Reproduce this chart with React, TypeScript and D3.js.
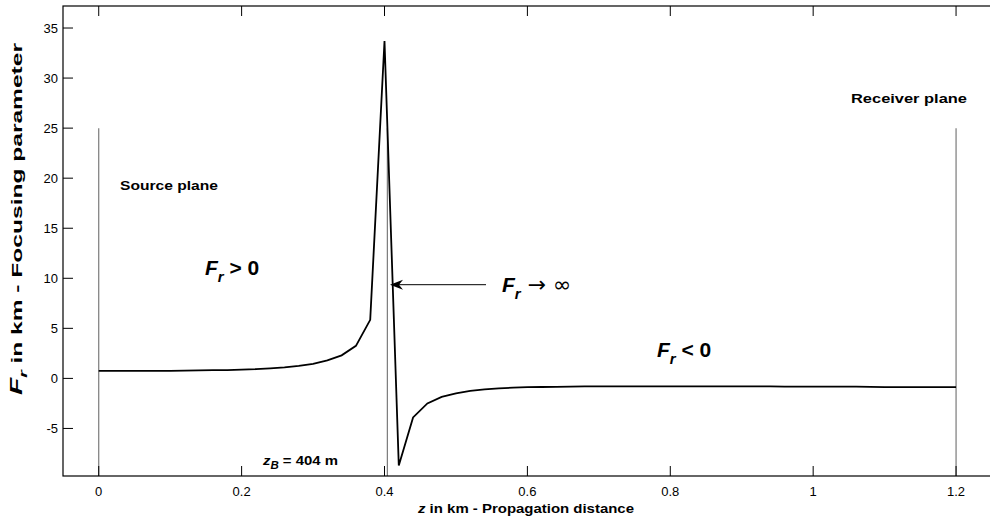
import React from "react";
import * as d3 from "d3";

// propagation distance (km), sampled every 20 m
const zValues = [
  0, 0.02, 0.04, 0.06, 0.08, 0.1, 0.12, 0.14, 0.16, 0.18, 0.2, 0.22, 0.24, 0.26, 0.28, 0.3,
  0.32, 0.34, 0.36, 0.38, 0.4, 0.42, 0.44, 0.46, 0.48, 0.5, 0.52, 0.54, 0.56, 0.58, 0.6,
  0.62, 0.64, 0.66, 0.68, 0.7, 0.72, 0.74, 0.76, 0.78, 0.8, 0.82, 0.84, 0.86, 0.88, 0.9,
  0.92, 0.94, 0.96, 0.98, 1.0, 1.02, 1.04, 1.06, 1.08, 1.1, 1.12, 1.14, 1.16, 1.18, 1.2,
];
// focusing parameter F_r (km)
const frValues = [
  0.75, 0.75, 0.75, 0.75, 0.75, 0.76, 0.77, 0.8, 0.82, 0.83, 0.88, 0.92, 1.0, 1.1, 1.25, 1.45,
  1.8, 2.3, 3.25, 5.85, 33.7, -8.7, -3.9, -2.5, -1.85, -1.5, -1.25, -1.1, -1.0, -0.92, -0.88,
  -0.86, -0.84, -0.82, -0.8, -0.8, -0.8, -0.8, -0.8, -0.8, -0.8, -0.8, -0.8, -0.8, -0.8, -0.8,
  -0.8, -0.8, -0.82, -0.82, -0.82, -0.82, -0.82, -0.83, -0.84, -0.87, -0.88, -0.88, -0.88, -0.88, -0.88,
];
const xTicks = [0, 0.2, 0.4, 0.6, 0.8, 1, 1.2];
const yTicks = [-5, 0, 5, 10, 15, 20, 25, 30, 35];
const planes = [0, 0.404, 1.2];

const W = 990;
const H = 520;
const left = 63;
const top = 6;
const right = 1000;
const bottom = 476;

export default function App() {
  const x = d3.scaleLinear().domain([-0.05, 1.2615]).range([left, right]);
  const y = d3.scaleLinear().domain([-9.75, 37.2]).range([bottom, top]);
  const pts = zValues.map((z, i) => [z, frValues[i]] as [number, number]);
  const line = d3.line<[number, number]>().x((d) => x(d[0])).y((d) => y(d[1]));
  const font = "Arial, 'Liberation Sans', Helvetica, sans-serif";
  const tl = 10;

  const bigLabel = (px: number, py: number, rest: React.ReactNode) => (
    <text x={px} y={py} fontFamily={font} fontWeight="bold" fontSize={21}>
      <tspan fontStyle="italic">F</tspan>
      <tspan fontStyle="italic" fontSize={15} dy={7}>r</tspan>
      <tspan dy={-7}>{rest}</tspan>
    </text>
  );

  const ay = y(9.36);

  return (
    <div style={{ position: "fixed", left: 0, top: 0 }}>
      <svg width={W} height={H} style={{ display: "block", background: "#fff" }}>
        {/* plane markers */}
        {planes.map((p) => (
          <line key={p} x1={x(p)} x2={x(p)} y1={y(25)} y2={bottom} stroke="#7a7a7a" strokeWidth={1.2} />
        ))}
        {/* curve */}
        <path d={line(pts) || ""} fill="none" stroke="#000" strokeWidth={1.8} />

        {/* axes box */}
        <rect x={left} y={top} width={right - left} height={bottom - top} fill="none" stroke="#000" strokeWidth={1.2} />
        {xTicks.map((t) => (
          <g key={"x" + t}>
            <line x1={x(t)} x2={x(t)} y1={bottom} y2={bottom - tl} stroke="#000" />
            <line x1={x(t)} x2={x(t)} y1={top} y2={top + tl} stroke="#000" />
            <text x={x(t)} y={496} textAnchor="middle" fontFamily={font} fontSize={13}>
              {String(t)}
            </text>
          </g>
        ))}
        {yTicks.map((t) => (
          <g key={"y" + t}>
            <line x1={left} x2={left + tl} y1={y(t)} y2={y(t)} stroke="#000" />
            <line x1={right} x2={right - tl} y1={y(t)} y2={y(t)} stroke="#000" />
            <text x={58} y={y(t) + 4.5} textAnchor="end" fontFamily={font} fontSize={13}>
              {String(t)}
            </text>
          </g>
        ))}

        {/* annotations */}
        <text x={120} y={190} fontFamily={font} fontWeight="bold" fontSize={13} textLength={98} lengthAdjust="spacingAndGlyphs">
          Source plane
        </text>
        <text x={851} y={103} fontFamily={font} fontWeight="bold" fontSize={13} textLength={116} lengthAdjust="spacingAndGlyphs">
          Receiver plane
        </text>
        {bigLabel(205, 275, " > 0")}
        {bigLabel(
          502,
          292,
          <tspan fontFamily="'DejaVu Sans', sans-serif" fontWeight="normal" fontSize={22}>
            {"\u00A0\u2192 \u221E"}
          </tspan>
        )}
        {bigLabel(657, 357, " < 0")}
        <text x={263} y={465} fontFamily={font} fontWeight="bold" fontSize={13} textLength={75} lengthAdjust="spacingAndGlyphs">
          <tspan fontStyle="italic">z</tspan>
          <tspan fontStyle="italic" fontSize={10} dy={4}>B</tspan>
          <tspan dy={-4}> = 404 m</tspan>
        </text>
        <line x1={486} x2={396} y1={ay} y2={ay} stroke="#000" strokeWidth={1} />
        <path d={`M390,${ay} L403,${ay - 5} L399,${ay} L403,${ay + 5} Z`} fill="#000" />

        {/* axis titles */}
        <text x={418} y={513} fontFamily={font} fontWeight="bold" fontSize={13} textLength={216} lengthAdjust="spacingAndGlyphs">
          <tspan fontStyle="italic">z</tspan> in km - Propagation distance
        </text>
        <text
          transform="translate(22,395) rotate(-90)"
          fontFamily={font}
          fontWeight="bold"
          fontSize={14}
          textLength={352}
          lengthAdjust="spacingAndGlyphs"
        >
          <tspan fontStyle="italic" fontSize={16}>F</tspan>
          <tspan fontStyle="italic" fontSize={11} dy={5}>r</tspan>
          <tspan dy={-5}> in km - Focusing parameter</tspan>
        </text>
      </svg>
    </div>
  );
}
